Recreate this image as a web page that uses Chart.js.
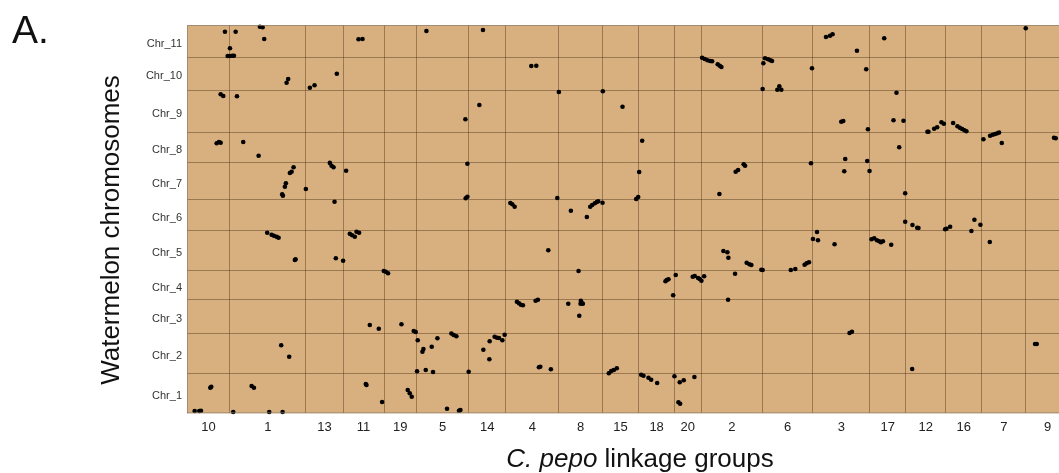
<!DOCTYPE html>
<html>
<head>
<meta charset="utf-8">
<script src="https://cdn.jsdelivr.net/npm/chart.js@4/dist/chart.umd.min.js"></script>
<style>
  html, body { margin: 0; padding: 0; background: #fff; overflow: hidden; width: 1059px; height: 473px; }
  #wrap { position: absolute; left: 0; top: 0; width: 1072px; height: 473px; }
  .txt { position: absolute; font-family: 'Liberation Sans', Arial, sans-serif; color: #111; white-space: nowrap; }
  #panel { left: 12px; top: 10px; font-size: 39px; line-height: 39px; }
  #ytitle { left: -60px; top: 217px; width: 340px; height: 26px; font-size: 26px; line-height: 26px; text-align: center; transform: rotate(-90deg); }
  #xtitle { left: 440px; top: 445px; width: 400px; font-size: 26px; line-height: 26px; text-align: center; }
</style>
</head>
<body>
<div id="wrap"><canvas id="c" width="1072" height="473"></canvas></div>
<div class="txt" id="panel">A.</div>
<div class="txt" id="ytitle">Watermelon chromosomes</div>
<div class="txt" id="xtitle"><i>C. pepo</i> linkage groups</div>
<script>
// C. pepo linkage groups (left to right) and their map lengths
const groupNames = ['10','1','13','11','19','5','14','4','8','15','18','20','2','6','3','17','12','16','7','9'];
const groupLengths = [43, 76, 37.3, 41, 32.4, 52.6, 36.7, 53.3, 43.4, 36.6, 35.7, 26.7, 61.6, 50, 57.4, 35.6, 40.4, 36, 44, 44];

// Watermelon chromosomes (bottom to top) and their lengths
const chromNames = ['Chr_1','Chr_2','Chr_3','Chr_4','Chr_5','Chr_6','Chr_7','Chr_8','Chr_9','Chr_10','Chr_11'];
const chromLengths = [40, 40, 34, 28.6, 40, 31.4, 36.6, 30.4, 42.3, 32.7, 32.3];

// Anchors per chromosome: [cumulative linkage-map position, position within chromosome]
const chr1 = [[24.3,26.6],[23.3,25.6],[64.7,27.3],[67,25.6],[179,29.3],[179.7,28.3],[221,23.3],[223,20],[225,16.6],[195.3,11.3],[7.7,2.3],[12.3,2.3],[14,2.6],[46.3,1.3],[82.3,1.3],[95.7,1.3],[260.3,4.6],[272.3,2.6],[273.7,3.3],[454.7,38.6],[457,37.6],[462,35.6],[464.7,33.6],[470.7,30.3],[488,37],[493.3,31],[497.3,33],[508,36.3],[492,11],[493.7,9.6]];
const chr2 = [[231,33],[250.7,35],[236.7,24.3],[235.7,21.6],[245,26.6],[264.7,39.8],[267,38.3],[269.7,37],[308,36.6],[310.3,35.6],[312.3,35.3],[318,38.6],[315.7,33],[303,32],[296.7,23.6],[302.7,14],[230.3,2],[239,3.3],[246.3,1.3],[282,1.6],[94.3,28],[102.3,16.6],[353.7,6.6],[352.3,6],[364.3,4],[422.3,0.1],[424.7,2.3],[427.3,3.3],[430.3,5],[849,29.3],[850.7,29.3],[726,4.3]];
const chr3 = [[183,8.3],[192,4.6],[214.7,9],[227,2.3],[229,1.3],[330.3,31.6],[332.3,30],[334.3,28.6],[336.3,28],[349,32.6],[351.3,33.6],[381.7,29.6],[394.3,32.6],[395.7,30],[394,29.6],[396.3,29.6],[392.7,17.6],[541.7,33.6],[663.3,0.3],[665.7,1.6]];
const chr4 = [[197,28.3],[199,27.6],[201.3,26],[392,28.3],[479,18],[480.3,19.3],[482,20],[489.3,24.3],[486.7,4],[506.3,22.6],[508.3,23.3],[511.7,21.3],[513.3,20.3],[515,18.6],[517.7,23],[548.7,25.6]];
const chr5 = [[80.3,38],[84.7,36],[87,35],[89.7,34],[91.7,33],[108.7,11.4],[108,10.7],[163,37],[165.3,35.4],[168,34],[169.7,39],[172.3,38],[149,12.4],[156.3,10],[361.7,20.4],[537,19.7],[541,18.4],[542,13],[560.3,8],[563,6.4],[565,5.7],[575,1],[576.3,0.7],[604.5,0.7],[609,1.7],[618.3,6],[620.3,7.4],[622.7,8.4],[630.7,38.7],[626.7,31.7],[631.7,30.4],[648.3,26.4],[685.3,31.4],[688,32.4],[690.7,30.4],[693,29.4],[694.7,28.4],[696.7,29.4],[705,26],[785.3,39.7],[803.7,28.7]];
const chr6 = [[147.7,29],[323.7,27.7],[325.7,26.4],[328,24],[384.3,20],[403.7,24],[405.7,25.7],[408.3,27.4],[410.3,28.7],[411.7,29.4],[416,28],[400.3,13.7],[719,9],[726.3,5.7],[731,3],[732.3,2.7],[759,1.4],[760.3,2],[764,4],[788.3,11],[794.3,6]];
const chr7 = [[106.7,32],[104.7,27.6],[103,26.3],[99,16],[98,12.6],[95.3,5],[96,3.6],[119,10.3],[143,36.4],[144.7,33.6],[146.7,32],[159.3,28.6],[280.7,35.6],[279,1],[280.7,2.6],[452.7,27.3],[449.7,0.3],[451.7,2.3],[549.3,27.6],[551.7,29.3],[557.3,35],[558.7,33.6],[533,5.3],[370.7,1.3],[624.7,36],[658,28],[683.3,28.3],[719,6]];
const chr8 = [[29.7,19.4],[32,20.7],[33.7,20],[56.3,20.7],[71.7,7],[455.7,22],[797.3,23.4],[804,27],[806.7,28],[809,28.7],[811.3,29.4],[813,30.2],[815.7,19.7],[868,25],[869.7,24.4],[713,15.4],[659,3.7],[681,1.7]];
const chr9 = [[33.7,38],[36.3,36.3],[50,36],[292.7,27.3],[278.7,13],[372.3,40.3],[416.3,41],[436,25.6],[710.3,39.6],[655,10.6],[657,11.3],[707.3,12],[717.3,11.6],[681.7,3],[741.3,0.6],[742.3,0.6],[748,3.6],[751,5],[755.3,10],[757.7,8.6],[767,9.3],[771.3,6],[773.7,4.6],[776,3.3],[778.3,2],[780.3,1]];
const chr10 = [[150,16.3],[101.3,11],[99.7,7.3],[123,2.3],[127.7,4.7],[344.7,24],[349.7,24.3],[515.7,32.3],[518.3,31],[521,29.7],[523.7,29],[525.7,28.7],[531.3,25.7],[533.3,24.3],[535,23],[578.7,31.7],[581.7,30.7],[584,29.7],[585.7,29],[577,26.7],[576.3,1],[591,0.3],[593,3.7],[595,0.2],[625.7,21.7],[680,20.7]];
const chr11 = [[38,25.6],[48.7,25.6],[73,30.6],[75.7,30],[77.3,18.3],[43,9],[40.7,1.3],[43,1.3],[45.3,1.6],[47,1.6],[171.7,18],[175.7,18.3],[239.7,26.3],[296.3,27.3],[639.7,20.3],[643.7,21.6],[646.3,23],[698,19],[670.7,6.6],[839.7,29]];

const chromHits = [chr1, chr2, chr3, chr4, chr5, chr6, chr7, chr8, chr9, chr10, chr11];

// ---- derived layout values ----
const xStarts = []; let xAcc = 0;
groupLengths.forEach(l => { xStarts.push(xAcc); xAcc += l; });
const xMax = xAcc;
const yStarts = []; let yAcc = 0;
chromLengths.forEach(l => { yStarts.push(yAcc); yAcc += l; });
const yMax = yAcc;

const xTicks = [];
groupLengths.forEach((l, i) => {
  if (i > 0) xTicks.push({ value: xStarts[i], kind: 'b', label: '' });
  xTicks.push({ value: xStarts[i] + l / 2, kind: 'm', label: groupNames[i] });
});
const yTicks = [];
chromLengths.forEach((l, i) => {
  if (i > 0) yTicks.push({ value: yStarts[i], kind: 'b', label: '' });
  yTicks.push({ value: yStarts[i] + l / 2, kind: 'm', label: chromNames[i] });
});

const points = [];
chromHits.forEach((arr, i) => arr.forEach(p => points.push({ x: p[0], y: yStarts[i] + p[1] })));

const TAN = '#d8b07f';
const GRID = 'rgba(70,45,20,0.42)';

const bgPlugin = {
  id: 'bg',
  beforeDraw(chart) {
    const { ctx, chartArea: a } = chart;
    ctx.save();
    ctx.fillStyle = TAN;
    ctx.fillRect(a.left, a.top, a.right - a.left, a.bottom - a.top);
    ctx.restore();
  },
  afterDatasetsDraw(chart) {
    const { ctx, chartArea: a } = chart;
    ctx.save();
    ctx.strokeStyle = 'rgba(140,125,110,0.7)';
    ctx.lineWidth = 1;
    ctx.beginPath();
    ctx.moveTo(a.left + 0.5, a.bottom);
    ctx.lineTo(a.left + 0.5, a.top + 0.5);
    ctx.lineTo(a.right, a.top + 0.5);
    ctx.moveTo(a.left, a.bottom - 0.5);
    ctx.lineTo(a.right, a.bottom - 0.5);
    ctx.stroke();
    ctx.restore();
  }
};

Chart.defaults.font.family = "'Liberation Sans', Arial, sans-serif";

new Chart(document.getElementById('c'), {
  type: 'scatter',
  data: {
    datasets: [{
      data: points,
      backgroundColor: '#000',
      borderWidth: 0,
      pointRadius: 2.3,
      pointHoverRadius: 2.3,
      clip: false
    }]
  },
  options: {
    responsive: false,
    animation: false,
    devicePixelRatio: 1,
    layout: { padding: { top: 25, left: 0, right: 1.3, bottom: 0 } },
    plugins: { legend: { display: false }, tooltip: { enabled: false } },
    scales: {
      x: {
        type: 'linear', min: 0, max: xMax,
        afterBuildTicks: s => { s.ticks = xTicks.map(t => ({ ...t })); },
        afterFit: s => { s.height = 473 - 413.3; },
        grid: {
          drawTicks: false,
          color: c => (c.tick && c.tick.kind === 'b') ? GRID : 'rgba(0,0,0,0)',
          lineWidth: 1
        },
        border: { display: false },
        ticks: {
          autoSkip: false, maxRotation: 0, minRotation: 0, padding: 6,
          color: '#222', font: { size: 13 },
          callback: (v, i, ticks) => ticks[i].label
        }
      },
      y: {
        type: 'linear', min: 0, max: yMax,
        afterBuildTicks: s => { s.ticks = yTicks.map(t => ({ ...t })); },
        afterFit: s => { s.width = 187; },
        grid: {
          drawTicks: false,
          color: c => (c.tick && c.tick.kind === 'b') ? GRID : 'rgba(0,0,0,0)',
          lineWidth: 1
        },
        border: { display: false },
        ticks: {
          autoSkip: false, padding: 5, labelOffset: 2.5,
          color: '#333', font: { size: 11 },
          callback: (v, i, ticks) => ticks[i].label
        }
      }
    }
  },
  plugins: [bgPlugin]
});
</script>
</body>
</html>
